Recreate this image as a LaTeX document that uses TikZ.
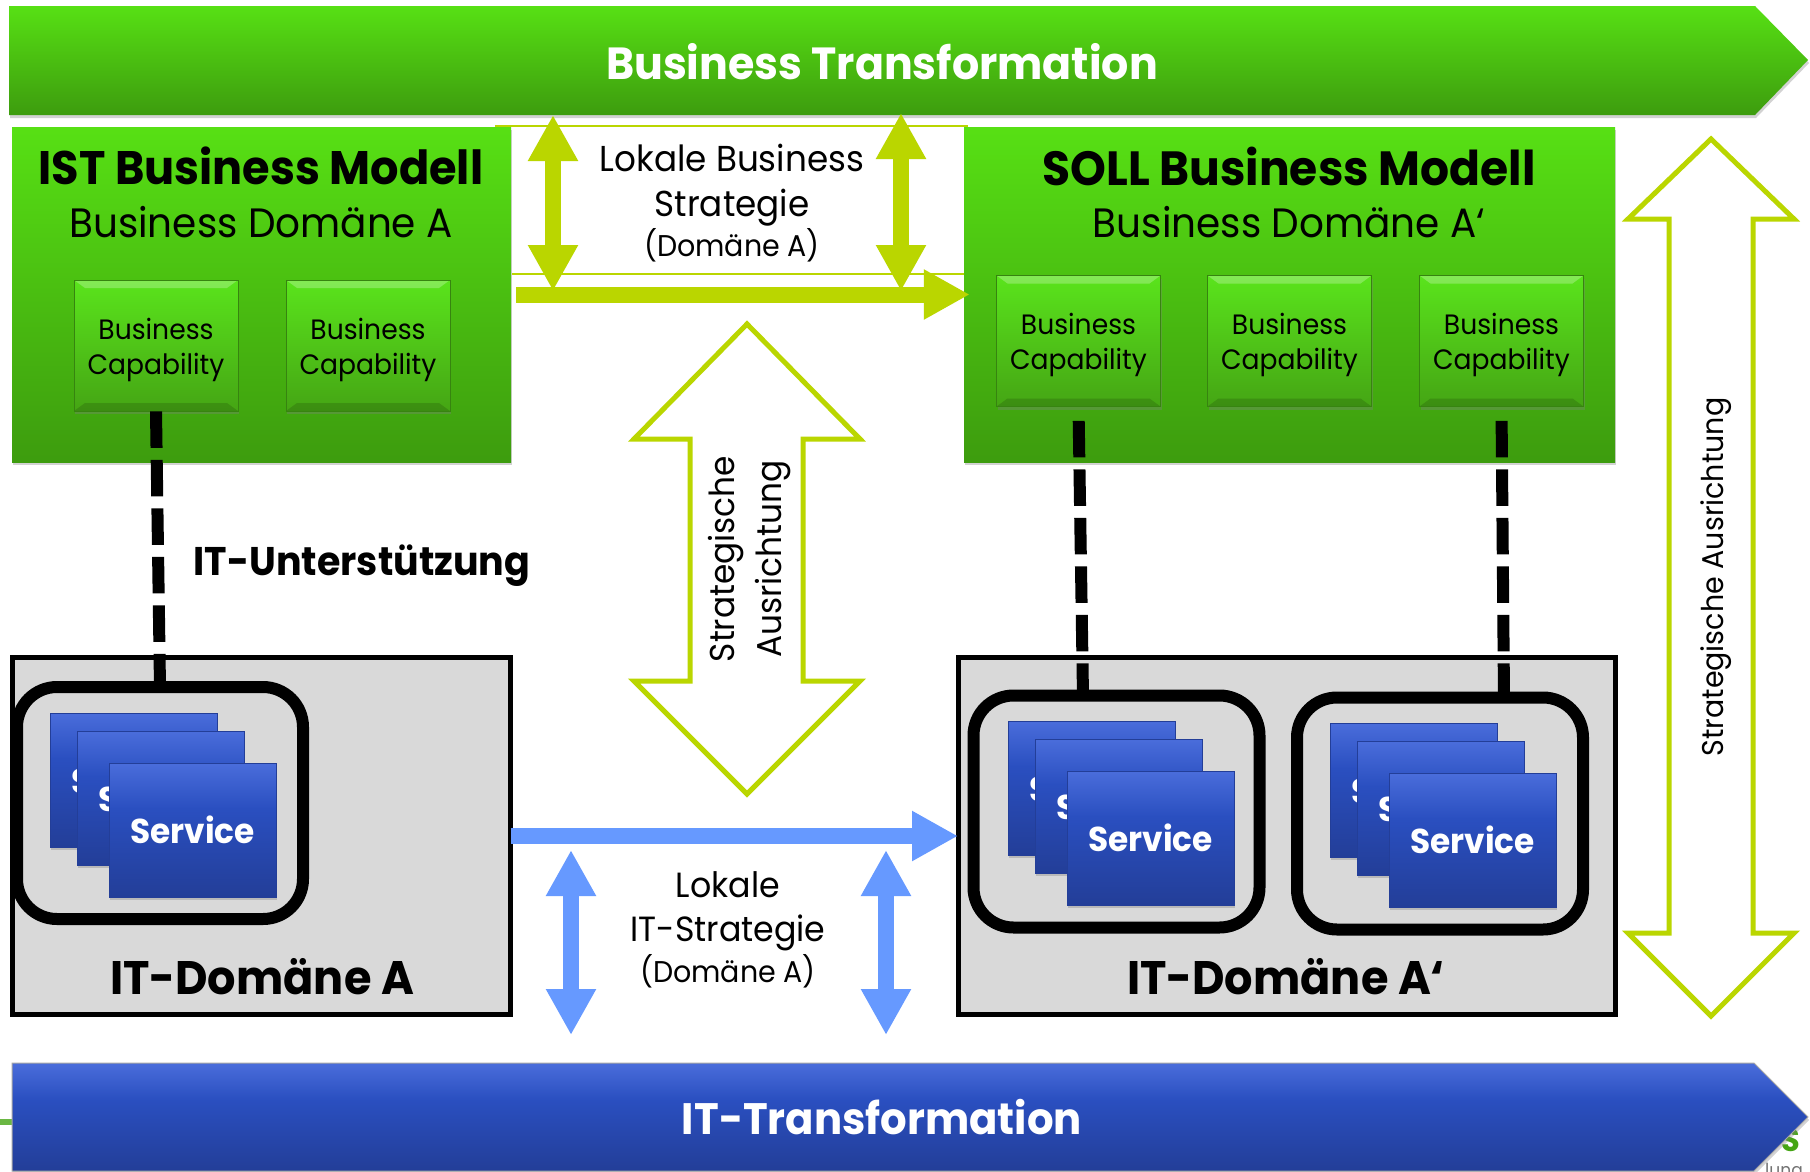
\documentclass[tikz,border=0pt]{standalone}
\usepackage{fontspec}
\setmainfont{Poppins}[FakeStretch=0.95]
\usetikzlibrary{arrows.meta, shadows}
\definecolor{limeline}{HTML}{BAD600}
\definecolor{skyline}{HTML}{6699FF}
\definecolor{barbluelow}{HTML}{233E98}
\definecolor{barbluemid}{HTML}{2A4FC0}
\definecolor{barbluehigh}{HTML}{4A6DDB}
\definecolor{greentop}{HTML}{57E014}
\definecolor{greenlow}{HTML}{3D9C0E}
\definecolor{greenbright}{HTML}{5AE41C}
\definecolor{greenmid}{HTML}{45A514}
\definecolor{itgrey}{HTML}{D9D9D9}
\pgfdeclareverticalshading{barblue}{100bp}{color(0bp)=(barbluelow); color(25bp)=(barbluelow); color(58bp)=(barbluemid); color(75bp)=(barbluehigh); color(100bp)=(barbluehigh)}
\tikzstyle{softshadow}=[drop shadow={shadow xshift=1pt, shadow yshift=-3pt, opacity=.35}]
\tikzset{
	bizbar/.style={top color=greentop, bottom color=greenlow, draw=none, softshadow},
	itbar/.style={shading=barblue, draw=black!35, line width=1pt, softshadow},
	bartext/.style={text=white, font=\bfseries\fontsize{45}{54}\selectfont},
	bizdom/.style={top color=greentop, bottom color=greenlow, softshadow, minimum height=335pt, anchor=center},
	captext/.style={font=\fontsize{28}{35}\selectfont, align=center},
	capbox/.style={rectangle, minimum width=164pt, minimum height=131pt, inner sep=0pt, top color=greenbright, bottom color=greenmid, draw=greenmid!80!black, line width=.8pt, softshadow,
		label={[captext, yshift=-4pt]center:Business\\Capability},
		path picture={
			\fill[white, opacity=.25] (path picture bounding box.north west) -- (path picture bounding box.north east) -- ([xshift=-11pt,yshift=-8pt]path picture bounding box.north east) -- ([xshift=11pt,yshift=-8pt]path picture bounding box.north west) -- cycle;
			\fill[black, opacity=.14] (path picture bounding box.south west) -- (path picture bounding box.south east) -- ([xshift=-11pt,yshift=8pt]path picture bounding box.south east) -- ([xshift=11pt,yshift=8pt]path picture bounding box.south west) -- cycle;
		}},
	itdom/.style={draw=black, line width=5pt, fill=itgrey, minimum height=357pt, outer sep=0pt},
	rndbox/.style={draw=black, line width=12pt, rounded corners=40pt, minimum height=232pt, minimum width=286pt, outer sep=0pt},
	svcbox/.style={shading=barblue, draw=barbluelow, line width=.8pt, minimum width=167pt, minimum height=134pt, inner sep=0pt, text=white, font=\bfseries\fontsize{34.5}{40}\selectfont, softshadow},
	titlebold/.style={font=\bfseries\fontsize{47}{56}\selectfont},
	domtext/.style={font=\fontsize{41}{48}\selectfont},
	midtext/.style={font=\fontsize{35}{42}\selectfont},
	smalltext/.style={font=\fontsize{30}{38}\selectfont},
	hollow/.style={draw=limeline, line width=5pt, fill=white, line join=miter},
	lime/.style={draw=limeline, line width=16pt},
	sky/.style={draw=skyline, line width=16pt},
	bigtip/.style={arrows={-{Triangle[length=46pt,width=47pt]}}},
	bothtip/.style={arrows={{Triangle[length=46pt,width=47pt]}-{Triangle[length=46pt,width=47pt]}}},
	blackdash/.style={draw=black, line width=12pt, dash pattern=on 36.5pt off 12pt},
}
\begin{document}
\begin{tikzpicture}[x=1pt, y=-1pt]
	\useasboundingbox[fill=white] (0,0) rectangle (1810,1171);
	\fill[greenmid!80!white] (0,1119) rectangle (14,1125);
	\node[text=greenmid, font=\bfseries\fontsize{32}{32}\selectfont] (logopart) at (1791,1140) {S};
	\node[text=black!55, font=\fontsize{18}{18}\selectfont] (logorest) at (1784,1172) {lung};
	\path[bizbar] (9,6) -- (1755,6) -- (1808,60) -- (1755,115) -- (9,115) -- cycle;
	\node[bartext] (biztrans) at (882,62) {Business Transformation};
	\path[itbar] (12,1063) -- (1754,1063) -- (1808,1117) -- (1754,1171) -- (12,1171) -- cycle;
	\node[bartext, font=\bfseries\fontsize{44}{54}\selectfont] (ittrans) at (882,1117) {IT-Transformation};
	\node[bizdom, minimum width=499pt] (ist) at (261.5,294.5) {};
	\node[bizdom, minimum width=651pt] (soll) at (1289.5,294.5) {};
	\node[titlebold] (isttitle) at (261,166) {IST Business Modell};
	\node[domtext] (istsub) at (261,222) {Business Domäne A};
	\node[titlebold, font=\bfseries\fontsize{48}{56}\selectfont] (solltitle) at (1289,166) {SOLL Business Modell};
	\node[domtext] (sollsub) at (1289,222) {Business Domäne A‘};
	\node[capbox] (cap1) at (156,345.5) {};
	\node[capbox] (cap2) at (368,345.5) {};
	\node[capbox] (cap3) at (1078.5,341) {};
	\node[capbox] (cap4) at (1289.5,341) {};
	\node[capbox] (cap5) at (1501.5,341) {};
	\node[itdom, minimum width=498pt] (itA) at (261.5,836) {};
	\node[itdom, minimum width=657pt] (itB) at (1286.5,836) {};
	\node[rndbox] (rndA) at (160,803) {};
	\node[rndbox] (rndB) at (1116.5,811.5) {};
	\node[rndbox] (rndC) at (1440,813.5) {};
	\foreach \g/\x/\y in {A/50/713, B/1008/721, C/1330/723} {
		\node[svcbox] (svc\g1) at (\x+83.5,\y+67) {Service};
		\node[svcbox] (svc\g2) at (\x+110.5,\y+85) {Service};
		\node[svcbox] (svc\g3) at (\x+142.5,\y+117) {Service};
	}
	\node[titlebold] (itAtext) at (262,977) {IT-Domäne A};
	\node[titlebold] (itBtext) at (1286,977) {IT-Domäne A‘};
	\node[font=\bfseries\fontsize{40}{50}\selectfont] (support) at (362,566) {IT-Unterstützung};
	\coordinate (dashB) at (1083,696);
	\coordinate (dashC) at (1504,698);
	\draw[blackdash] (cap1.south) -- (rndA.north);
	\draw[blackdash, shorten <=14pt] (cap3.south) -- (dashB);
	\draw[blackdash, shorten <=14pt] (cap5.south) -- (dashC);
	\coordinate (thinA) at (495,126);
	\coordinate (thinB) at (968,126);
	\coordinate (thinC) at (512,274);
	\coordinate (thinD) at (964,274);
	\draw[limeline, line width=1.5pt] (thinA) -- (thinB);
	\draw[limeline, line width=1.5pt] (thinC) -- (thinD);
	\node[midtext, font=\fontsize{36}{42}\selectfont] (lokbiz1) at (732,158) {Lokale Business};
	\node[midtext, font=\fontsize{36}{42}\selectfont] (lokbiz2) at (732,208) {Strategie};
	\node[smalltext] (lokbiz3) at (732,245) {(Domäne A)};
	\coordinate (limeAtop) at (553,115);
	\coordinate (limeAlow) at (553,291);
	\coordinate (limeBtop) at (901,113);
	\coordinate (limeBlow) at (901,291);
	\draw[lime, bothtip] (limeAtop) -- (limeAlow);
	\draw[lime, bothtip] (limeBtop) -- (limeBlow);
	\draw[lime, bigtip, shorten <=5pt, shorten >=-6pt] (ist.east) -- (soll.west);
	\draw[hollow] (747,324) -- (860,439) -- (803,439) -- (803,681) -- (860,681) -- (747,794) -- (634,681) -- (690,681) -- (690,439) -- (634,439) -- cycle;
	\node[rotate=90, align=center, font=\fontsize{34.5}{47}\selectfont] (stratmid) at (750,559) {Strategische\\Ausrichtung};
	\draw[hollow] (1711,139) -- (1794,219) -- (1753,219) -- (1753,933) -- (1794,933) -- (1711,1016) -- (1628,933) -- (1669,933) -- (1669,219) -- (1628,219) -- cycle;
	\node[rotate=90, font=\fontsize{30}{36}\selectfont] (stratright) at (1716,577) {Strategische Ausrichtung};
	\draw[sky, bigtip] (itA.east) -- (itB.west);
	\coordinate (skyAtop) at (571,850);
	\coordinate (skyAlow) at (571,1035);
	\coordinate (skyBtop) at (886,850);
	\coordinate (skyBlow) at (886,1035);
	\draw[sky, bothtip] (skyAtop) -- (skyAlow);
	\draw[sky, bothtip] (skyBtop) -- (skyBlow);
	\node[midtext] (lokit1) at (728,885) {Lokale};
	\node[midtext] (lokit2) at (728,933) {IT-Strategie};
	\node[smalltext] (lokit3) at (728,971) {(Domäne A)};
\end{tikzpicture}
\end{document}
